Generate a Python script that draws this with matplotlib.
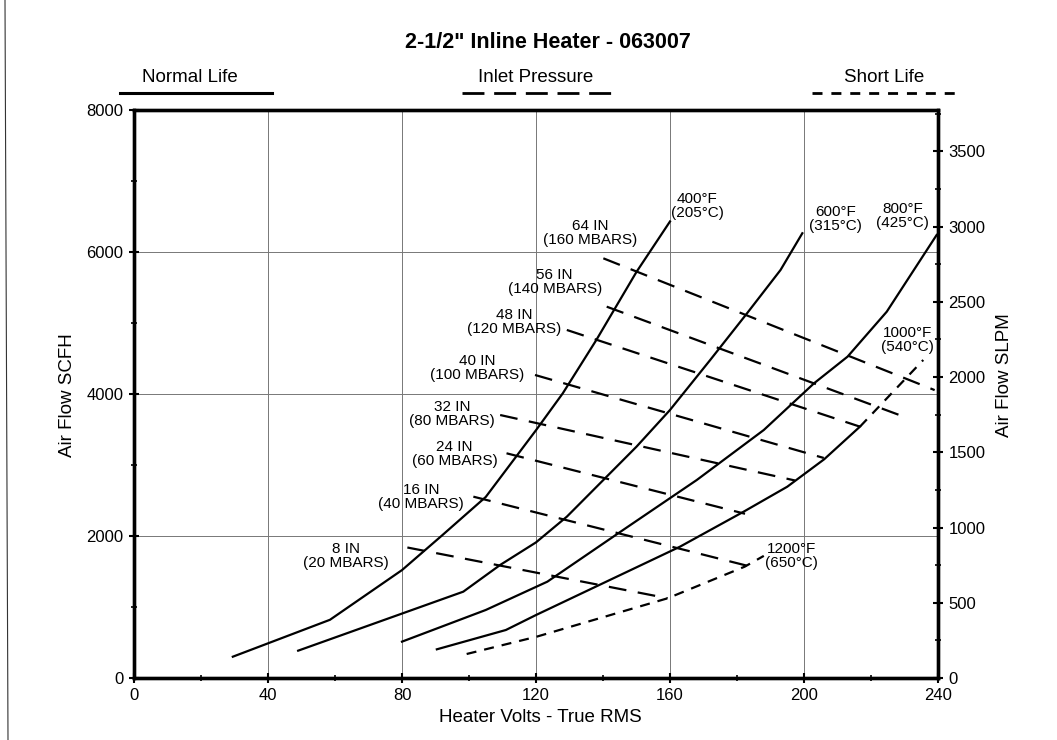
import matplotlib
matplotlib.use('Agg')
import matplotlib.pyplot as plt
from matplotlib.lines import Line2D
from matplotlib.ticker import MultipleLocator

plt.rcParams['font.family'] = ['Liberation Sans', 'DejaVu Sans']

# ---------------- data (Heater volts vs air flow SCFH) ----------------
v_400 = [29.5, 58.5, 80, 92, 105, 120, 128, 138, 150, 160]
f_400 = [300, 820, 1520, 2010, 2550, 3490, 4010, 4760, 5720, 6430]

v_600 = [49, 98.3, 109.3, 120, 129.2, 150, 160, 172, 183, 193, 199.5]
f_600 = [385, 1216, 1592, 1910, 2272, 3258, 3775, 4479, 5137, 5747, 6264]

v_800 = [80, 105, 123.4, 146, 168, 188, 203, 213, 224.7, 239.6]
f_800 = [512, 958, 1357, 2085, 2789, 3493, 4151, 4526, 5159, 6240]

v_1000_normal = [90.4, 111, 120, 163, 182, 195, 206, 216.7]
f_1000_normal = [404, 676, 887, 1850, 2343, 2694, 3080, 3540]
v_1000_short = [216.7, 235.6]
f_1000_short = [3540, 4479]

v_1200 = [99.3, 120.2, 159.3, 182.3, 188]
f_1200 = [338, 582, 1123, 1568, 1720]

temp_labels = ["400°F\n(205°C)", "600°F\n(315°C)", "800°F\n(425°C)",
               "1000°F\n(540°C)", "1200°F\n(650°C)"]

pressure_labels = ["64 IN\n(160 MBARS)", "56 IN\n(140 MBARS)", "48 IN\n(120 MBARS)",
                   "40 IN\n(100 MBARS)", "32 IN\n(80 MBARS)", "24 IN\n(60 MBARS)",
                   "16 IN\n(40 MBARS)", "8 IN\n(20 MBARS)"]
p_v_start = [140.1, 141.1, 129.2, 119.7, 109.3, 111.2, 101.3, 81.6]
p_f_start = [5911, 5230, 4902, 4268, 3704, 3165, 2554, 1838]
p_v_end = [239.0, 228.7, 216.7, 205.9, 197.3, 182.4, 183.3, 159.3]
p_f_end = [4055, 3700, 3540, 3099, 2782, 2313, 1578, 1123]

x_ticks = [0, 40, 80, 120, 160, 200, 240]
y_ticks = [0, 2000, 4000, 6000, 8000]
slpm_ticks = [0, 500, 1000, 1500, 2000, 2500, 3000, 3500]
SCFH_TO_SLPM = 0.4719

# ---------------- figure ----------------
W, H = 1057, 740
fig = plt.figure(figsize=(W / 100, H / 100), dpi=100)
ax = fig.add_axes([134 / W, 62 / H, 804 / W, 568 / H])
ax.set_xlim(0, 240)
ax.set_ylim(0, 8000)

ax.set_xticks(x_ticks)
ax.set_yticks(y_ticks)
ax.xaxis.set_minor_locator(MultipleLocator(20))
ax.yaxis.set_minor_locator(MultipleLocator(1000))
ax.grid(True, which='major', color='#777777', lw=0.7)
ax.set_axisbelow(True)
for s in ax.spines.values():
    s.set_linewidth(2.4)
ax.tick_params(which='major', direction='inout', length=7, width=1.5,
               labelsize=12, pad=4)
ax.tick_params(which='minor', direction='inout', length=5, width=1.2)

ax2 = ax.twinx()
ax2.set_ylim(0, 8000 * SCFH_TO_SLPM)
ax2.set_yticks(slpm_ticks)
ax2.yaxis.set_minor_locator(MultipleLocator(250))
ax2.tick_params(which='major', direction='inout', length=7, width=1.5,
                labelsize=12, pad=4)
ax2.tick_params(which='minor', direction='inout', length=5, width=1.2)
for s in ax2.spines.values():
    s.set_linewidth(2.4)

ax.set_xlabel("Heater Volts - True RMS", fontsize=13.5)
ax.xaxis.set_label_coords(0.505, -0.055)
ax.set_ylabel("Air Flow SCFH", fontsize=13.5)
ax.yaxis.set_label_coords(-0.072, 0.498)
ax2.set_ylabel("Air Flow SLPM", fontsize=13.5)
ax2.yaxis.set_label_coords(1.072, 0.533)

LW = 1.6
long_dash = (0, (8.0, 5.2))
short_dash = (0, (4.5, 3.6))

# temperature curves
for v, f in [(v_400, f_400), (v_600, f_600), (v_800, f_800),
             (v_1000_normal, f_1000_normal)]:
    ax.plot(v, f, color='black', lw=LW, solid_joinstyle='miter')
ax.plot(v_1000_short, f_1000_short, color='black', lw=LW, linestyle=short_dash)
ax.plot(v_1200, f_1200, color='black', lw=LW, linestyle=short_dash)

# pressure lines
for vs, fs, ve, fe in zip(p_v_start, p_f_start, p_v_end, p_f_end):
    ax.plot([vs, ve], [fs, fe], color='black', lw=LW, linestyle=long_dash)

# pressure labels (offset from line start, in pixels)
p_offsets = [(-13, 25), (-52, 25), (-53, 8), (-58, 7), (-48, 1), (-52, -1),
             (-52, 0), (-61, -8)]
for lab, vs, fs, (dx, dy) in zip(pressure_labels, p_v_start, p_f_start, p_offsets):
    ax.annotate(lab, (vs, fs), xytext=(dx * 0.72, dy * 0.72),
                textcoords='offset points', ha='center', va='center',
                fontsize=11, multialignment='center', linespacing=1.0)

# temperature labels (offset from curve end)
t_ends = [(v_400[-1], f_400[-1]), (v_600[-1], f_600[-1]), (v_800[-1], f_800[-1]),
          (v_1000_short[-1], f_1000_short[-1]), (v_1200[-1], f_1200[-1])]
t_offsets = [(27, 15), (33, 14), (-34, 19), (-16, 20), (28, 0)]
for lab, (ve, fe), (dx, dy) in zip(temp_labels, t_ends, t_offsets):
    ax.annotate(lab, (ve, fe), xytext=(dx * 0.72, dy * 0.72),
                textcoords='offset points', ha='center', va='center',
                fontsize=11, multialignment='center', linespacing=1.0)

# title
fig.text(548 / W, 1 - 42 / H, '2-1/2" Inline Heater - 063007', ha='center',
         va='center', fontsize=15.5, fontweight='bold')

# custom legend above the plot
legend_items = [("Normal Life", 120, 272, 190, '-', 2.2),
                ("Inlet Pressure", 462, 611, 536, (0, (7.9, 3.5)), 2.0),
                ("Short Life", 812, 955, 884, (0, (3.6, 3.2)), 2.0)]
for text, x0, x1, xt, ls, lw in legend_items:
    fig.text(xt / W, 1 - 77 / H, text, ha='center', va='center', fontsize=13.5)
    fig.add_artist(Line2D([x0 / W, x1 / W], [1 - 93 / H, 1 - 93 / H],
                          color='black', lw=lw, linestyle=ls))

# scan border at left
fig.add_artist(Line2D([5 / W, 8 / W], [1.0, 0.0], color='#333333', lw=0.8))

fig.savefig('out.png', dpi=100)
